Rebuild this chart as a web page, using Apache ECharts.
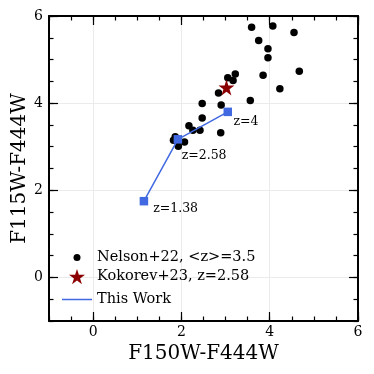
<!DOCTYPE html>
<html>
<head>
<meta charset="utf-8">
<script src="https://cdn.jsdelivr.net/npm/echarts@6/dist/echarts.min.js"></script>
<style>
  html, body { margin: 0; padding: 0; background: #fff; }
  #chart { width: 374px; height: 374px; }
</style>
</head>
<body>
<div id="chart"></div>
<script>
// Nelson+22 sample
var nelsonX = [3.59, 4.07, 4.55, 3.75, 3.96, 3.96, 4.67, 3.85, 4.23, 3.56, 3.22, 3.05, 3.17,
               2.84, 2.47, 2.90, 2.47, 2.17, 2.26, 2.42, 2.89, 1.86, 1.82, 2.07, 1.93];
var nelsonY = [5.74, 5.77, 5.62, 5.44, 5.25, 5.04, 4.73, 4.64, 4.33, 4.06, 4.67, 4.58, 4.52,
               4.23, 3.99, 3.96, 3.66, 3.48, 3.38, 3.38, 3.32, 3.23, 3.15, 3.11, 3.01];
// Kokorev+23
var kokorevX = [3.02];
var kokorevY = [4.36];
// this work track
var workX = [1.15, 1.92, 3.05];
var workY = [1.75, 3.17, 3.80];
var workZ = ["z=1.38", "z=2.58", "z=4"];
var majorTicks = [0, 2, 4, 6];

var FONT = "DejaVu Serif";
var BLUE = "#4169e1";
var STAR = "path://M50,0L61.2,34.5L97.6,34.5L68.2,55.9L79.4,90.5L50,69.1L20.6,90.5L31.8,55.9L2.4,34.5L38.8,34.5Z";
var nudge = [[0, 7.5], [-5.5, 16.5], [-3.5, 9.5]];

function pairs(xs, ys) {
  var out = [];
  for (var i = 0; i < xs.length; i++) out.push([xs[i], ys[i]]);
  return out;
}

// one axis: major = long ticks (+labels on main side), else minor ticks every 0.5
function axis(pos, major, main) {
  var a = {
    type: "value", position: pos, min: -1, max: 6, interval: 0.5,
    axisLine: { show: major, onZero: false, lineStyle: { color: "#000", width: 2 } },
    axisTick: { show: true, inside: true, length: major ? 9 : 4.5,
      lineStyle: { color: "#000", width: 1.2 } },
    axisLabel: { show: false },
    splitLine: { show: false }
  };
  if (major) a.axisTick.customValues = majorTicks;
  if (!major && main) {
    a.splitLine = { show: true, lineStyle: { width: 1,
      color: ["rgba(0,0,0,0)", "rgba(0,0,0,0)", "#ebebeb", "rgba(0,0,0,0)"] } };
  }
  if (major && main) {
    a.axisLabel = { show: true, customValues: majorTicks, color: "#000",
      fontFamily: FONT, fontSize: 14, margin: pos === "left" ? 6 : 4 };
  }
  return a;
}

var xMain = axis("bottom", true, true);
xMain.name = "F150W-F444W";
xMain.nameLocation = "middle";
xMain.nameGap = 22;
xMain.nameTextStyle = { fontFamily: FONT, fontSize: 20, color: "#000" };

var yMain = axis("left", true, true);
yMain.name = "F115W-F444W";
yMain.nameLocation = "middle";
yMain.nameGap = 19;
yMain.nameMoveOverlap = false;
yMain.nameTextStyle = { fontFamily: FONT, fontSize: 20, color: "#000" };

var workData = [];
for (var i = 0; i < workX.length; i++) {
  workData.push({ value: [workX[i], workY[i]], label: { formatter: workZ[i], offset: nudge[i] } });
}

var legendText = { fontFamily: FONT, fontSize: 14.5, color: "#000" };

var chart = echarts.init(document.getElementById("chart"));
chart.setOption({
  animation: false,
  grid: { left: 49, right: 16, top: 16, bottom: 53, outerBoundsMode: "none", containLabel: false },
  xAxis: [xMain, axis("bottom", false, true), axis("top", true, false), axis("top", false, false)],
  yAxis: [yMain, axis("left", false, true), axis("right", true, false), axis("right", false, false)],
  legend: [
    { data: [{ name: "Nelson+22, <z>=3.5", icon: "circle" }], left: 73.5, top: 250, padding: 0,
      itemWidth: 7, itemHeight: 7, selectedMode: false,
      textStyle: Object.assign({ padding: [0, 0, 0, 11.5] }, legendText) },
    { data: [{ name: "Kokorev+23, z=2.58", icon: STAR }], left: 69, top: 269, padding: 0,
      itemWidth: 16, itemHeight: 16, selectedMode: false,
      textStyle: Object.assign({ padding: [0, 0, 0, 7] }, legendText) },
    { data: [{ name: "This Work", icon: "rect" }], left: 62, top: 292, padding: 0,
      itemWidth: 30, itemHeight: 1.5, selectedMode: false, textStyle: legendText }
  ],
  series: [
    { name: "Nelson+22, <z>=3.5", type: "scatter", data: pairs(nelsonX, nelsonY),
      symbol: "circle", symbolSize: 7.5, itemStyle: { color: "#000", opacity: 1 } },
    { name: "Kokorev+23, z=2.58", type: "scatter", data: pairs(kokorevX, kokorevY),
      symbol: STAR, symbolSize: 16, itemStyle: { color: "#8b0000", opacity: 1 }, z: 3 },
    { name: "This Work", type: "line", data: workData, symbol: "rect", symbolSize: 8.5,
      lineStyle: { color: BLUE, width: 1.5 }, itemStyle: { color: BLUE, opacity: 1 }, z: 4,
      label: { show: true, position: "right", color: "#000", fontFamily: FONT, fontSize: 12.5 } }
  ]
});
</script>
</body>
</html>
